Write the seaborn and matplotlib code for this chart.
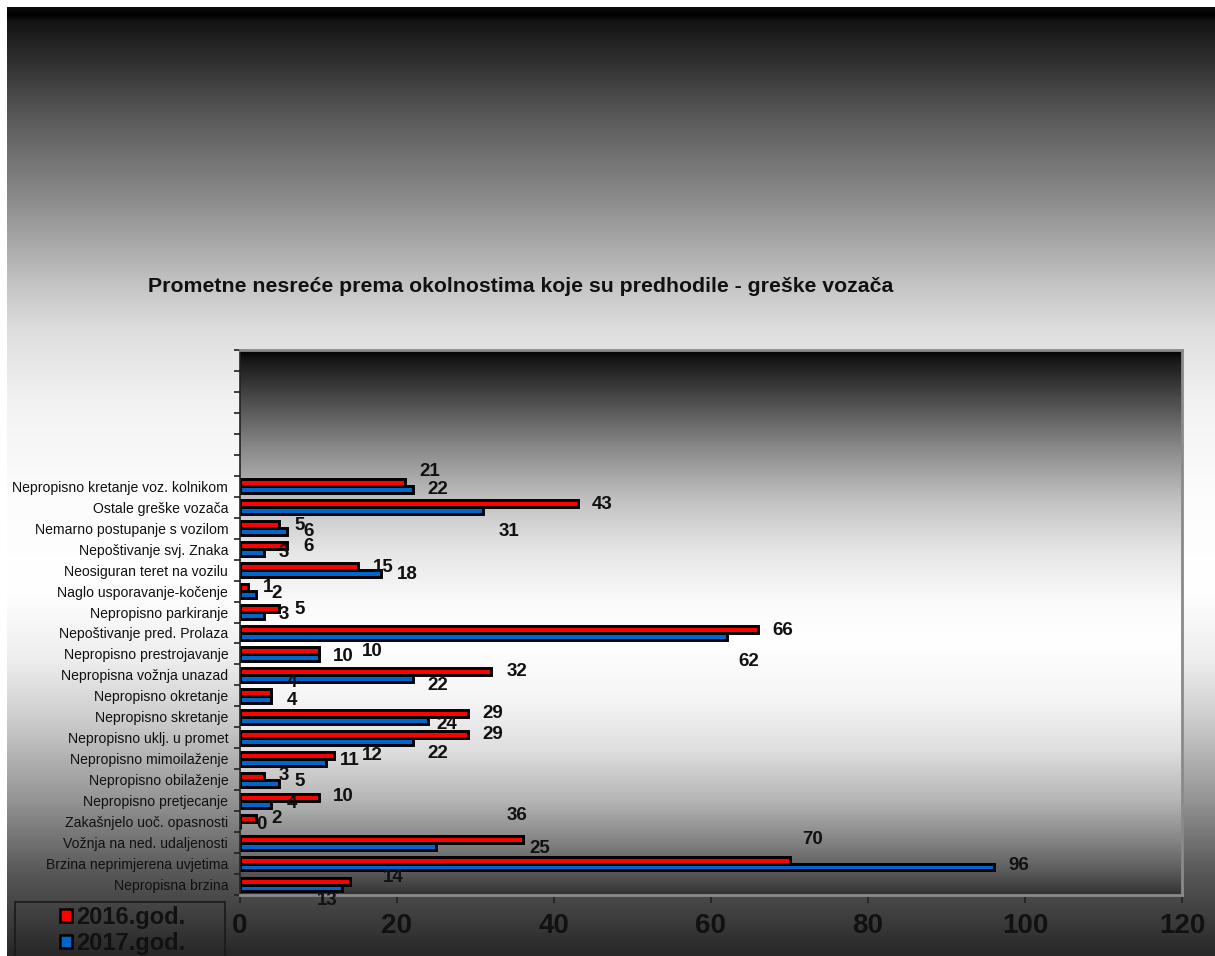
import numpy as np
import pandas as pd
import matplotlib
import matplotlib.pyplot as plt
import seaborn as sns
from matplotlib.patches import Patch, Rectangle

matplotlib.use('Agg')

# categories, top to bottom as in the chart
categories = [
    'Nepropisno kretanje voz. kolnikom',
    'Ostale greške vozača',
    'Nemarno postupanje s vozilom',
    'Nepoštivanje svj. Znaka',
    'Neosiguran teret na vozilu',
    'Naglo usporavanje-kočenje',
    'Nepropisno parkiranje',
    'Nepoštivanje pred. Prolaza',
    'Nepropisno prestrojavanje',
    'Nepropisna vožnja unazad',
    'Nepropisno okretanje',
    'Nepropisno skretanje',
    'Nepropisno uklj. u promet',
    'Nepropisno mimoilaženje',
    'Nepropisno obilaženje',
    'Nepropisno pretjecanje',
    'Zakašnjelo uoč. opasnosti',
    'Vožnja na ned. udaljenosti',
    'Brzina neprimjerena uvjetima',
    'Nepropisna brzina',
]
values_2016 = [21, 43, 5, 6, 15, 1, 5, 66, 10, 32, 4, 29, 29, 12, 3, 10, 2, 36, 70, 14]
values_2017 = [22, 31, 6, 3, 18, 2, 3, 62, 10, 22, 4, 24, 22, 11, 5, 4, 0, 25, 96, 13]
series_names = ['2016.god.', '2017.god.']
x_ticks = [0, 20, 40, 60, 80, 100, 120]

# where Excel dropped the data labels (offset from bar end / category centre)
lab16_dx = [3.2, 3.1, 2.6, 2.7, 3.3, 2.6, 2.6, 3.2, 6.9, 3.3, 2.6, 3.2, 3.2, 4.9, 2.6, 3.2, 2.7, -0.7, 3.0, 5.5]
lab16_dy = [-0.71, -0.14, -0.14, -0.14, -0.14, -0.19, -0.14, -0.14, -0.14, -0.14, -0.62, -0.14, -0.14, -0.14, -0.19, -0.19, -0.14, -1.29, -1.14, -0.33]
lab17_dx = [3.2, 3.3, 2.7, 2.6, 3.3, 2.7, 2.6, 2.8, 3.2, 3.2, 2.6, 2.4, 3.2, 3.0, 2.6, 2.6, 2.7, 13.2, 3.2, -1.9]
lab17_dy = [0.14, 1.14, 0.14, 0.14, 0.19, 0.10, 0.14, 1.38, 0.10, 0.52, 0.22, 0.38, 0.76, 0.10, 0.10, 0.14, 0.14, 0.29, 0.10, 0.76]

df = pd.DataFrame({
    'kategorija': categories * 2,
    'broj': values_2016 + values_2017,
    'godina': [series_names[0]] * len(categories) + [series_names[1]] * len(categories),
})

sns.set_style('white')
plt.rcParams['font.family'] = ['Liberation Sans', 'DejaVu Sans']

W, H = 1215, 956
fig = plt.figure(figsize=(W / 100, H / 100), dpi=100)


def gray_gradient(stops_px, levels, top, bottom):
    ys = np.arange(top, bottom)
    g = np.interp(ys, stops_px, levels)[:, None]
    return np.dstack([g, g, g])


# figure background gradient (black - white - dark)
bg = fig.add_axes([7 / W, 0, 1 - 7 / W, 1 - 7 / H], zorder=-10)
bg_img = gray_gradient([7, 14, 20, 120, 200, 285, 330, 400, 500, 590, 660, 720, 800, 870, 956],
                       [0.05, 0.0, 0.07, 0.36, 0.55, 0.77, 0.87, 0.95, 0.99, 1.0, 0.93, 0.80, 0.58, 0.35, 0.15],
                       7, 956)
bg.imshow(bg_img, aspect='auto', extent=(0, 1, 0, 1), interpolation='bilinear')
bg.axis('off')

ax = fig.add_axes([240 / W, 1 - 895 / H, (1182 - 240) / W, (895 - 350) / H])

pal = {series_names[0]: '#ff0000', series_names[1]: '#0066cc'}
sns.barplot(data=df, x='broj', y='kategorija', hue='godina', orient='h',
            palette=pal, width=0.66, edgecolor='black', linewidth=2.1,
            saturation=1, legend=False, ax=ax)

n = len(categories)
ylim = (n - 0.5, -6.5)

# plot-area gradient
pa_img = gray_gradient([350, 358, 400, 450, 500, 550, 600, 640, 700, 750, 800, 840, 870, 895],
                       [0.0, 0.08, 0.30, 0.55, 0.76, 0.90, 0.98, 1.0, 0.96, 0.87, 0.71, 0.52, 0.36, 0.19],
                       350, 895)
ax.imshow(pa_img, aspect='auto', extent=(0, 120, ylim[0], ylim[1]), origin='upper',
          zorder=0, interpolation='bilinear')
ax.set_xlim(0, 120)
ax.set_ylim(*ylim)

for i in range(n):
    ax.text(values_2016[i] + lab16_dx[i], i + lab16_dy[i], str(values_2016[i]),
            ha='center', va='center', fontsize=13.5, fontweight='bold', color='#111111')
    ax.text(values_2017[i] + lab17_dx[i], i + lab17_dy[i], str(values_2017[i]),
            ha='center', va='center', fontsize=13.5, fontweight='bold', color='#111111')

ax.set_xlabel('')
ax.set_ylabel('')
ax.set_xticks(x_ticks)
ax.set_xticklabels([str(t) for t in x_ticks], fontsize=20, fontweight='bold', color='#111111')
ax.tick_params(axis='x', bottom=True, length=6, width=1.2, color='#222222', pad=7)
ax.set_yticks(range(n))
ax.set_yticklabels(categories, fontsize=10.1, color='#111111')
ax.tick_params(axis='y', which='major', left=False, length=0, pad=8.5)
ax.set_yticks(np.arange(-6.5, n, 1), minor=True)
ax.tick_params(axis='y', which='minor', left=True, length=4, width=1.2, color='#222222')

for side in ['top', 'right', 'bottom']:
    ax.spines[side].set_color('#8a8a8a')
    ax.spines[side].set_linewidth(2)
ax.spines['left'].set_color('#222222')
ax.spines['left'].set_linewidth(1.2)

fig.text(521 / W, 1 - 287 / H, 'Prometne nesreće prema okolnostima koje su predhodile - greške vozača',
         ha='center', va='center', fontsize=15.3, fontweight='bold', color='#111111')

# legend box (cut off by the figure edge like in the original)
fig.patches.append(Rectangle((15 / W, -0.03), 210 / W, 0.03 + 1 - 902 / H,
                             transform=fig.transFigure, facecolor='none',
                             edgecolor='#1a1a1a', linewidth=1.2))
handles = [Patch(facecolor=pal[s], edgecolor='black', linewidth=1.8) for s in series_names]
leg = fig.legend(handles, series_names, loc='upper left', bbox_to_anchor=(60 / W, 1 - 906 / H),
                 frameon=False, borderpad=0, borderaxespad=0, handlelength=0.5, handleheight=0.5,
                 handletextpad=0.2, labelspacing=0.12, prop={'size': 17, 'weight': 'bold'})
for t in leg.get_texts():
    t.set_color('#111111')

fig.savefig('out.png', dpi=100)
